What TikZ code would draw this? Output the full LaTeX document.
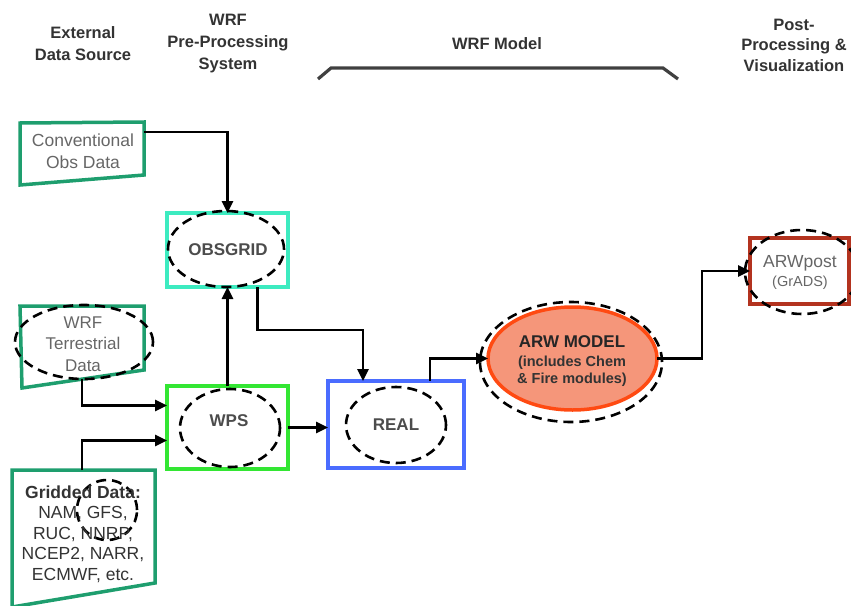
\documentclass[tikz,border=0pt]{standalone}
\usepackage{fontspec}
\setmainfont{Liberation Sans}
\usetikzlibrary{arrows.meta,calc,shapes.geometric}
\definecolor{srcg}{HTML}{1E9E6E}
\definecolor{obsc}{HTML}{3DEBC0}
\definecolor{wpsc}{HTML}{33E633}
\definecolor{realc}{HTML}{4A6CFF}
\definecolor{arwfill}{HTML}{F5967A}
\definecolor{arwline}{HTML}{FF4A12}
\definecolor{postc}{HTML}{B3331F}
\begin{document}
\begin{tikzpicture}[x=1pt,y=-1pt,
  hdr/.style={font=\bfseries\fontsize{16.5}{22}\selectfont, text=black!80, align=center},
  lbl/.style={font=\fontsize{17}{21.5}\selectfont, text=black!60, align=center},
  blbl/.style={font=\bfseries\fontsize{17}{21}\selectfont, text=black!70, align=center},
  dsh/.style={draw=black, line width=2.6pt, dash pattern=on 10pt off 6pt},
  dell/.style={ellipse, dsh, inner sep=0pt, outer sep=0pt},
  procbox/.style={rectangle, draw, line width=3.5pt, inner sep=0pt, outer sep=0pt},
  srcbox/.style={draw=srcg, line width=3.5pt, line join=miter},
  arr/.style={draw=black, line width=2.5pt, -{Triangle[length=12pt,width=11pt]}},
]
\useasboundingbox (0,0) rectangle (851,605);

% headers
\node[hdr] (h1) at (83,44) {External\\Data Source};
\node[hdr] (h2) at (228,44) {WRF\\Pre-Processing\\System};
\node[hdr] (h3) at (497,44) {WRF Model};
\node[hdr, font=\bfseries\fontsize{16.5}{20.5}\selectfont] (h4) at (794,45) {Post-\\Processing \&\\Visualization};
\draw[line width=3.2pt, black!75] (318,79) -- (331,68) -- (663,68) -- (678,79);

% conventional obs data
\draw[srcbox] (20,123) -- (144,122) -- (144,175) -- (20,185) -- cycle;
\node[lbl, font=\fontsize{17.5}{22}\selectfont] (conv) at (83,151) {Conventional\\Obs Data};
\coordinate (convout) at (144,132);

% OBSGRID
\node[procbox, draw=obsc, minimum width=121pt, minimum height=74pt] (obs) at (227.5,250) {};
\node[dell, minimum width=116pt, minimum height=76pt] (obsE) at (226,249) {};
\node[blbl] (obsT) at (228,250) {OBSGRID};

% terrestrial
\draw[srcbox] (20,306) -- (144,306) -- (144,370) -- (22,388) -- cycle;
\node[dell, minimum width=138pt, minimum height=74pt] (terrE) at (84,342) {};
\node[lbl] (terr) at (83,344) {WRF\\Terrestrial\\Data};
\coordinate (terrout) at (82,379);

% WPS
\node[procbox, draw=wpsc, minimum width=121pt, minimum height=83pt] (wps) at (227.5,427.5) {};
\node[dell, minimum width=100pt, minimum height=78pt] (wpsE) at (230,428) {};
\node[blbl] (wpsT) at (229,421) {WPS};

% gridded data
\draw[srcbox] (12,470) -- (155,470) -- (155,583) -- (12,607) -- cycle;
\node[dell, minimum width=60pt, minimum height=60pt] (gridE) at (107,510) {};
\node[lbl, text=black!80, font=\fontsize{17.5}{20.5}\selectfont] (grid) at (83,534)
  {\textbf{Gridded Data:}\\NAM, GFS,\\RUC, NNRP,\\NCEP2, NARR,\\ECMWF, etc.};
\coordinate (gridout) at (82,470);

% REAL
\node[procbox, draw=realc, minimum width=136pt, minimum height=87pt] (real) at (396,424.5) {};
\node[dell, minimum width=100pt, minimum height=76pt] (realE) at (396,425) {};
\node[blbl] (realT) at (396,425) {REAL};

% ARW model
\node[dell, minimum width=182pt, minimum height=120pt] (arwE) at (571,362) {};
\node[ellipse, fill=arwfill, draw=arwline, line width=3.5pt, minimum width=169pt, minimum height=103pt, inner sep=0pt, outer sep=0pt] (arw) at (572.5,358.5) {};
\node[blbl, text=black!85, font=\bfseries\fontsize{17}{19}\selectfont] (arwT1) at (572,342) {ARW MODEL};
\node[blbl, text=black!80, font=\bfseries\fontsize{14.5}{17.5}\selectfont] (arwT2) at (572,371) {(includes Chem\\\& Fire modules)};

% ARWpost
\node[procbox, draw=postc, minimum width=99pt, minimum height=66pt] (post) at (799.5,271) {};
\node[dell, minimum width=114pt, minimum height=84pt] (postE) at (802,272) {};
\node[lbl, font=\fontsize{17.5}{19}\selectfont] (postT1) at (800,263) {ARWpost};
\node[lbl, font=\fontsize{14.5}{17}\selectfont] (postT2) at (800,283) {(GrADS)};

% connectors
\draw[arr] (convout) -| (obs.north);
\draw[arr] (wps.north) -- (obs.south);
\draw[arr] (terrout) |- ($(wps.west)+(0,-22)$);
\draw[arr] (gridout) |- ($(wps.west)+(0,13)$);
\draw[arr] (wps.east) -- (wps.east -| real.west);
\draw[arr] ($(obs.south)+(30,0)$) -- ++(0,43) -| ($(real.north)+(-33,0)$);
\draw[arr] ($(real.north)+(34,0)$) |- (arw.west);
\draw[arr] (arw.east) -- ++(45,0) |- (post.west);
\end{tikzpicture}
\end{document}
